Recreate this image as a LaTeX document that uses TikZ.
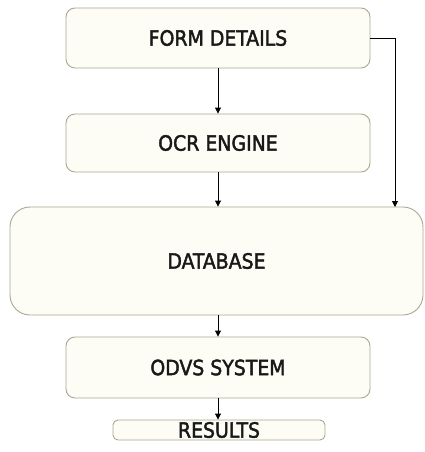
\documentclass[tikz,border=0pt]{standalone}
\usepackage{fontspec}
\setmainfont{DejaVu Sans Condensed}[FakeBold=2]
\usetikzlibrary{arrows.meta}
\definecolor{edge}{RGB}{170,167,145}
\definecolor{cream}{RGB}{253,253,246}
\begin{document}
\begin{tikzpicture}[x=1pt,y=-1pt,
  box/.style={draw=edge, line width=0.9pt, fill=cream, rounded corners=9pt, inner sep=0pt, text=black!90, font=\fontsize{21}{24}\selectfont},
  conn/.style={draw=black, line width=0.9pt, -{Triangle[length=6pt,width=6pt]}}]
\useasboundingbox (0,0) rectangle (425,452);
\node[box, minimum width=304pt, minimum height=60pt] (form) at (218,38) {FORM DETAILS};
\node[box, minimum width=304pt, minimum height=58pt] (ocr) at (218,143) {OCR ENGINE};
\node[box, minimum width=413pt, minimum height=108pt, rounded corners=20pt] (db) at (216.5,261) {DATABASE};
\node[box, minimum width=304pt, minimum height=61pt] (odvs) at (218,367.5) {ODVS SYSTEM};
\node[box, minimum width=212pt, minimum height=20pt, rounded corners=5pt] (res) at (219,430) {RESULTS};
\coordinate (turn) at (395,38);
\coordinate (dbin) at (395,207);
\draw[conn] (form.south) -- (ocr.north);
\draw[conn] (ocr.south) -- (db.north -| ocr.south);
\draw[conn] (db.south -| odvs.north) -- (odvs.north);
\draw[conn] (odvs.south) -- (res.north -| odvs.south);
\draw[conn] (form.east) -- (turn) -- (dbin);
\end{tikzpicture}
\end{document}
